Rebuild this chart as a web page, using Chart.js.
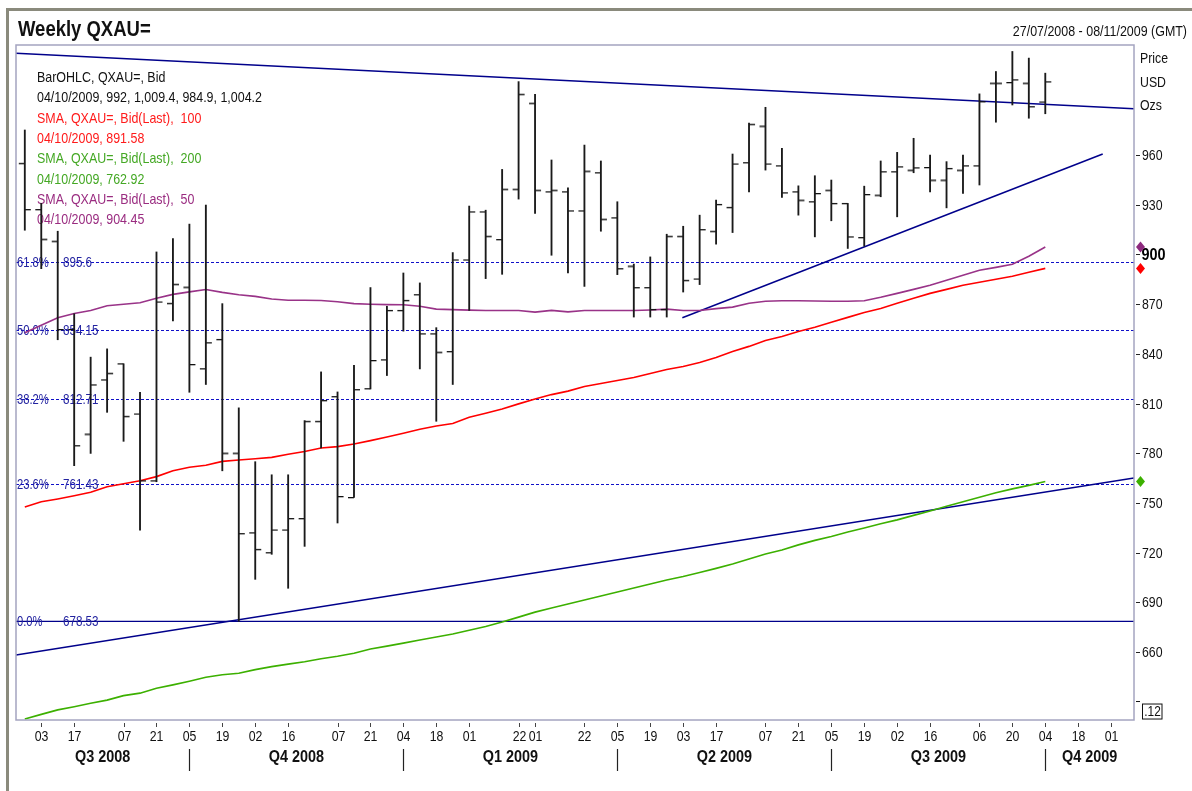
<!DOCTYPE html>
<html><head><meta charset="utf-8">
<script src="https://cdn.jsdelivr.net/npm/chart.js@4.4.1/dist/chart.umd.min.js"></script>
<style>html,body{margin:0;padding:0;background:#fff;overflow:hidden}canvas{display:block}</style>
</head><body>
<canvas id="c" width="1192" height="791"></canvas>
<script>
// ---- data (week index 0 = 27/07/2008) ----
const opens  = [955.0,927.1,908.0,854.7,791.6,824.3,834.0,803.7,763.4,870.5,880.3,831.0,848.7,780.1,732.0,720.0,733.7,740.6,799.3,814.2,753.3,819.0,836.4,866.2,875.7,852.1,841.4,896.7,925.7,909.0,939.4,991.3,937.8,937.8,926.3,949.3,922.1,893.0,880.0,866.8,911.0,885.2,914.0,928.4,955.4,977.5,953.5,937.8,931.8,938.8,930.8,910.2,935.8,949.9,950.9,952.5,944.9,950.9,953.5,1003.4,1003.8,1003.4,992.0];
const highs  = [975.1,930.8,914.0,864.2,838.0,843.0,834.0,816.8,901.5,909.6,918.3,929.8,870.3,807.4,774.9,767.0,767.0,799.7,829.1,817.0,833.0,880.0,868.7,888.8,882.8,855.8,901.1,929.2,926.7,951.3,1004.3,996.7,957.0,940.2,966.0,956.4,931.8,894.2,898.5,912.2,917.0,923.7,932.8,960.6,979.2,988.8,964.0,941.4,947.5,944.9,930.8,941.2,956.4,961.6,970.1,960.0,956.0,960.0,996.9,1010.4,1022.5,1018.5,1009.4];
const lows   = [914.6,891.4,848.5,772.5,779.9,804.7,787.2,733.5,762.8,859.8,816.8,821.5,769.4,678.53,703.9,719.0,698.5,723.8,783.2,737.9,753.3,818.8,826.9,853.7,830.9,799.3,821.5,866.2,885.4,888.0,933.4,924.7,899.5,888.8,880.7,914.0,887.8,862.2,862.2,862.2,877.3,881.8,906.2,913.2,937.8,950.9,934.4,923.7,910.6,920.3,903.6,905.0,934.8,922.7,949.3,937.8,928.1,936.8,941.9,979.8,990.2,982.2,984.9];
const closes = [927.1,909.2,854.7,784.6,821.3,828.3,802.3,763.4,871.3,882.0,833.6,846.7,780.1,731.5,722.0,733.7,740.6,799.3,811.8,753.9,818.4,836.0,866.2,872.3,852.1,841.0,896.7,925.7,911.0,939.4,996.7,938.8,938.8,926.3,950.3,921.3,891.4,880.0,866.8,911.0,884.4,915.0,930.2,954.6,978.6,954.6,937.2,932.8,936.8,930.8,910.6,936.2,949.9,952.9,952.3,944.9,951.9,953.5,992.2,1003.4,1005.4,989.2,1004.2];
const sma50  = [852.7,857.3,861.8,864.4,866.2,869.0,869.9,870.8,873.5,875.9,877.4,878.8,877.1,875.7,874.7,873.1,872.3,872.3,872.2,871.4,870.3,869.9,869.7,869.6,868.7,867.0,866.7,866.4,866.2,866.2,866.2,865.2,866.2,865.3,866.2,866.2,866.2,866.2,866.5,867.0,866.2,866.2,867.3,868.2,870.5,871.7,872.0,872.0,871.9,871.7,871.7,872.0,874.1,876.5,878.9,881.4,884.4,887.4,890.4,892.2,894.1,898.9,904.45];
const sma100 = [747.6,750.7,752.4,754.3,756.4,759.8,761.6,763.4,765.9,769.4,771.6,772.8,775.1,775.9,776.7,777.5,779.4,781.1,783.2,784.0,785.6,787.6,789.8,792.1,794.5,796.4,798.0,801.7,804.2,806.7,809.8,812.8,815.4,817.5,820.3,822.1,823.9,825.7,828.1,830.5,832.4,834.8,837.8,841.4,844.5,848.1,850.5,853.5,856.0,859.0,862.0,865.0,867.4,870.5,873.5,876.5,878.9,881.4,883.2,885.0,886.8,889.2,891.58];
const sma200 = [619.6,622.4,625.1,627.0,629.1,631.0,633.7,635.2,638.2,640.2,642.4,644.8,646.3,647.2,649.4,651.2,652.7,654.2,656.0,657.5,659.3,661.8,663.6,665.4,667.3,669.1,670.9,673.2,675.4,678.1,681.1,684.1,686.6,689.0,691.4,693.8,696.2,698.7,701.1,703.5,705.6,708.0,710.5,713.2,716.2,719.2,721.6,724.7,727.4,729.8,732.5,734.9,737.4,739.8,742.5,745.2,748.0,750.7,753.4,756.1,758.5,760.6,762.92];
// trend lines: [week index, price] pairs
const trendTop   = [[-0.535,1021.4],[67.39,987.9]];
const trendMid   = [[39.95,861.8],[65.49,960.6]];
const trendLong  = [[-0.535,658.2],[67.39,765.1]];
const fibLevels  = [895.6,854.15,812.71,761.43];
const fibNames   = ['61.8%','50.0%','38.2%','23.6%'];
const fibBase    = 678.53;
const tickIdx    = [1,3,6,8,10,12,14,16,19,21,23,25,27,30,31,34,36,38,40,42,45,47,49,51,53,55,58,60,62,64,66];
const tickLabels = ['03','17','07','21','05','19','02','16','07','21','04','18','01','22','01','22','05','19','03','17','07','21','05','19','02','16','06','20','04','18','01'];
const quarterStarts = [10,23,36,49,62];
const quarterNames  = ['Q3 2008','Q4 2008','Q1 2009','Q2 2009','Q3 2009','Q4 2009'];
const yTicks = [660,690,720,750,780,810,840,870,900,930,960];
const boxValue = 624.12;

const NF = '"Liberation Sans",Arial,sans-serif';
const RED='#ff0000', GREEN='#3cb000', PURPLE='#993388', NAVY='#00008b';
const legendLines = [
  ['BarOHLC, QXAU=, Bid','#111'],
  ['04/10/2009, 992, 1,009.4, 984.9, 1,004.2','#111'],
  ['SMA, QXAU=, Bid(Last),  100','#ff1a1a'],
  ['04/10/2009, 891.58','#ff1a1a'],
  ['SMA, QXAU=, Bid(Last),  200','#44a824'],
  ['04/10/2009, 762.92','#44a824'],
  ['SMA, QXAU=, Bid(Last),  50','#9a2c80'],
  ['04/10/2009, 904.45','#9a2c80']
];

function txt(c,s,x,y,font,color,align,sx){
  c.save(); c.translate(x,y); c.scale(sx,1);
  c.font=font; c.fillStyle=color; c.textAlign=align; c.textBaseline='middle';
  c.fillText(s,0,0); c.restore();
}

function tickImg(side){
  const cv=document.createElement('canvas'); cv.width=14; cv.height=3;
  const g=cv.getContext('2d'); g.fillStyle='#111';
  if(side==='L') g.fillRect(1,1,6,1.3); else g.fillRect(7,1,6,1.3);
  return cv;
}
const openImg=tickImg('L'), closeImg=tickImg('R');

const deco = {
  id:'deco',
  beforeDraw(chart){
    const c=chart.ctx; c.save();
    c.fillStyle='#fff'; c.fillRect(0,0,chart.width,chart.height);
    c.fillStyle='#8a8a7c'; c.fillRect(6,8,chart.width-6,3); c.fillRect(6,8,3,chart.height-8);
    c.restore();
    txt(c,'Weekly QXAU=',18,30,'bold 22px '+NF,'#111','left',0.84);
    txt(c,'27/07/2008 - 08/11/2009 (GMT)',1187,32,'15px '+NF,'#111','right',0.83);
  },
  beforeDatasetsDraw(chart){
    const {ctx:c, chartArea:a, scales:{x,y}} = chart;
    c.save();
    c.beginPath(); c.rect(a.left,a.top,a.right-a.left,a.bottom-a.top); c.clip();
    c.strokeStyle='#1010c8'; c.lineWidth=1.2; c.setLineDash([3,2]);
    fibLevels.forEach(v=>{const py=Math.round(y.getPixelForValue(v))+0.5;
      c.beginPath(); c.moveTo(a.left,py); c.lineTo(a.right,py); c.stroke();});
    c.setLineDash([]);
    c.strokeStyle=NAVY; c.lineWidth=1.4;
    const pb=y.getPixelForValue(fibBase);
    c.beginPath(); c.moveTo(a.left,pb); c.lineTo(a.right,pb); c.stroke();
    const ff='14px '+NF, fc='#2323a0';
    fibLevels.forEach((v,i)=>{const py=y.getPixelForValue(v)+1;
      txt(c,fibNames[i],a.left+1,py,ff,fc,'left',0.8); txt(c,String(v),63,py,ff,fc,'left',0.83);});
    txt(c,'0.0%',a.left+1,pb+1,ff,fc,'left',0.8); txt(c,fibBase.toFixed(2),63,pb+1,ff,fc,'left',0.83);
    legendLines.forEach((l,i)=>txt(c,l[0],37,78+i*20.3,'15px '+NF,l[1],'left',0.83));
    c.restore();
  },
  afterDraw(chart){
    const {ctx:c, chartArea:a, scales:{x,y}} = chart;
    c.save();
    c.strokeStyle='#a4a4c0'; c.lineWidth=1.5;
    c.strokeRect(a.left,a.top,a.right-a.left,a.bottom-a.top);
    // x axis ticks and labels
    c.strokeStyle='#444'; c.lineWidth=1;
    tickIdx.forEach((v,i)=>{const px=Math.round(x.getPixelForValue(v))+0.5;
      c.beginPath(); c.moveTo(px,a.bottom+3); c.lineTo(px,a.bottom+7); c.stroke();
      txt(c,tickLabels[i],px,737,'15px '+NF,'#111','center',0.82);});
    // y axis ticks and labels
    c.strokeStyle='#222';
    yTicks.forEach(v=>{const py=Math.round(y.getPixelForValue(v))+0.5;
      c.beginPath(); c.moveTo(a.right+2,py); c.lineTo(a.right+6,py); c.stroke();
      if(v===900) txt(c,String(v),a.right+7.5,py+1,'bold 17px '+NF,'#000','left',0.85);
      else txt(c,String(v),a.right+8,py+0.5,'15px '+NF,'#111','left',0.82);});
    // quarters
    const bounds=[x.min].concat(quarterStarts,[x.max]);
    quarterNames.forEach((q,i)=>{
      const cx=(x.getPixelForValue(bounds[i])+x.getPixelForValue(bounds[i+1]))/2;
      txt(c,q,cx,758,'bold 16px '+NF,'#111','center',0.9);
    });
    c.strokeStyle='#222'; c.lineWidth=1.2;
    quarterStarts.forEach(v=>{const px=Math.round(x.getPixelForValue(v))+0.5;
      c.beginPath(); c.moveTo(px,749); c.lineTo(px,771); c.stroke();});
    // right side labels
    txt(c,'Price',a.right+6,59,'15px '+NF,'#111','left',0.82);
    txt(c,'USD',a.right+6,83,'15px '+NF,'#111','left',0.82);
    txt(c,'Ozs',a.right+6,106,'15px '+NF,'#111','left',0.82);
    // diamonds for last SMA values
    const dia=(v,col)=>{const py=y.getPixelForValue(v), px=a.right+6.5;
      c.fillStyle=col; c.beginPath(); c.moveTo(px,py-5.5); c.lineTo(px+4.5,py); c.lineTo(px,py+5.5); c.lineTo(px-4.5,py); c.closePath(); c.fill();};
    dia(sma50[sma50.length-1],'#8e2a7e'); dia(sma100[sma100.length-1],RED); dia(sma200[sma200.length-1],GREEN);
    // value box
    const by=y.getPixelForValue(boxValue);
    c.strokeStyle='#111'; c.lineWidth=1; c.strokeRect(a.right+8.5,by-7.5,19.5,15);
    c.beginPath(); c.moveTo(a.right+2,by-10); c.lineTo(a.right+6,by-10); c.stroke();
    c.restore();
    txt(c,'.12',a.right+18.5,by+0.5,'14px '+NF,'#111','center',0.85);
  }
};

const idx = opens.map((_,i)=>i);
const pts = arr => arr.map((v,i)=>({x:i,y:v}));
const seg = arr => arr.map(p=>({x:p[0],y:p[1]}));
const lineDs = (data,col,w,order)=>({type:'line',data,borderColor:col,borderWidth:w,pointRadius:0,tension:0,fill:false,order});

new Chart(document.getElementById('c'),{
  data:{datasets:[
    {type:'bar',data:idx.map(i=>({x:i,y:[lows[i],highs[i]]})),backgroundColor:'#1a1a1a',barThickness:1.2,borderWidth:0,order:0},
    {type:'scatter',data:pts(opens),pointStyle:openImg,pointRadius:7,order:0},
    {type:'scatter',data:pts(closes),pointStyle:closeImg,pointRadius:7,order:0},
    lineDs(pts(sma50),PURPLE,1.6,1),
    lineDs(pts(sma100),RED,1.6,1),
    lineDs(pts(sma200),GREEN,1.6,1),
    lineDs(seg(trendTop),NAVY,1.5,2),
    lineDs(seg(trendMid),NAVY,1.5,2),
    lineDs(seg(trendLong),NAVY,1.5,2)
  ]},
  options:{
    responsive:false, animation:false, devicePixelRatio:1,
    layout:{padding:{left:16,top:45,right:0,bottom:0}},
    plugins:{legend:{display:false},tooltip:{enabled:false}},
    scales:{
      x:{type:'linear',position:'bottom',min:-0.535,max:67.39,offset:false,
        afterBuildTicks:s=>{s.ticks=tickIdx.map(v=>({value:v}));},
        afterFit:s=>{s.height=71;},
        grid:{display:false},border:{display:false},ticks:{display:false}},
      y:{type:'linear',position:'right',min:619.0,max:1026.4,
        afterBuildTicks:s=>{s.ticks=yTicks.map(v=>({value:v}));},
        afterFit:s=>{s.width=58;},
        grid:{display:false},border:{display:false},ticks:{display:false}}
    }
  },
  plugins:[deco]
});
</script>
</body></html>
